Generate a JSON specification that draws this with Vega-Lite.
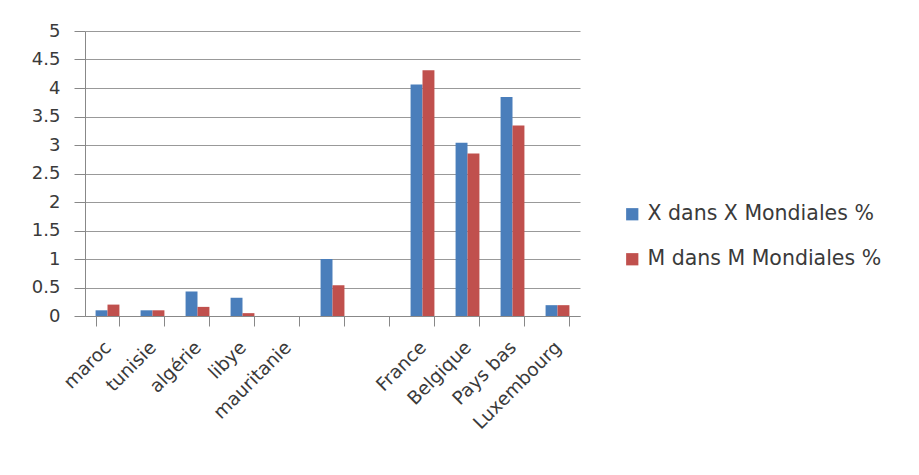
{
  "$schema": "https://vega.github.io/schema/vega-lite/v6.json",
  "width": 495,
  "height": 285,
  "autosize": {"type": "none"},
  "padding": {"left": 85, "top": 31, "right": 339, "bottom": 159},
  "background": "white",
  "config": {
    "view": {"stroke": null},
    "font": "DejaVu Sans",
    "axis": {"labelFont": "DejaVu Sans", "labelColor": "#3a3a3a", "labelFontSize": 18}
  },
  "data": {
    "values": [
      {"pays": "maroc", "serie": "X dans X Mondiales %", "valeur": 0.1},
      {"pays": "maroc", "serie": "M  dans M Mondiales %", "valeur": 0.2},
      {"pays": "tunisie", "serie": "X dans X Mondiales %", "valeur": 0.1},
      {"pays": "tunisie", "serie": "M  dans M Mondiales %", "valeur": 0.1},
      {"pays": "algérie", "serie": "X dans X Mondiales %", "valeur": 0.43},
      {"pays": "algérie", "serie": "M  dans M Mondiales %", "valeur": 0.16},
      {"pays": "libye", "serie": "X dans X Mondiales %", "valeur": 0.32},
      {"pays": "libye", "serie": "M  dans M Mondiales %", "valeur": 0.05},
      {"pays": "mauritanie", "serie": "X dans X Mondiales %", "valeur": 0},
      {"pays": "mauritanie", "serie": "M  dans M Mondiales %", "valeur": 0},
      {"pays": " ", "serie": "X dans X Mondiales %", "valeur": 1.0},
      {"pays": " ", "serie": "M  dans M Mondiales %", "valeur": 0.54},
      {"pays": "  ", "serie": "X dans X Mondiales %", "valeur": 0},
      {"pays": "  ", "serie": "M  dans M Mondiales %", "valeur": 0},
      {"pays": "France", "serie": "X dans X Mondiales %", "valeur": 4.06},
      {"pays": "France", "serie": "M  dans M Mondiales %", "valeur": 4.31},
      {"pays": "Belgique", "serie": "X dans X Mondiales %", "valeur": 3.04},
      {"pays": "Belgique", "serie": "M  dans M Mondiales %", "valeur": 2.85},
      {"pays": "Pays bas", "serie": "X dans X Mondiales %", "valeur": 3.84},
      {"pays": "Pays bas", "serie": "M  dans M Mondiales %", "valeur": 3.34},
      {"pays": "Luxembourg", "serie": "X dans X Mondiales %", "valeur": 0.19},
      {"pays": "Luxembourg", "serie": "M  dans M Mondiales %", "valeur": 0.19}
    ]
  },
  "mark": {"type": "bar"},
  "encoding": {
    "x": {
      "field": "pays",
      "type": "nominal",
      "sort": ["maroc", "tunisie", "algérie", "libye", "mauritanie", " ", "  ", "France", "Belgique", "Pays bas", "Luxembourg"],
      "scale": {"paddingInner": 0.47, "paddingOuter": 0.235},
      "axis": {
        "title": null,
        "labelAngle": -45,
        "labelAlign": "right",
        "labelBaseline": "middle",
        "labelPadding": 18,
        "labelFontSize": 18.5,
        "tickBand": "extent",
        "tickSize": 10,
        "tickColor": "#888888",
        "domainColor": "#888888",
        "labelOverlap": false
      }
    },
    "xOffset": {
      "field": "serie",
      "type": "nominal",
      "sort": ["X dans X Mondiales %", "M  dans M Mondiales %"],
      "scale": {"paddingInner": 0, "paddingOuter": 0}
    },
    "y": {
      "field": "valeur",
      "type": "quantitative",
      "scale": {"domain": [0, 5], "nice": false},
      "axis": {
        "title": null,
        "values": [0, 0.5, 1, 1.5, 2, 2.5, 3, 3.5, 4, 4.5, 5],
        "format": "~g",
        "tickSize": 11,
        "tickColor": "#888888",
        "domainColor": "#888888",
        "gridColor": "#999999",
        "grid": true,
        "labelPadding": 14,
        "labelFontSize": 18
      }
    },
    "color": {
      "field": "serie",
      "type": "nominal",
      "sort": ["X dans X Mondiales %", "M  dans M Mondiales %"],
      "scale": {"range": ["#4A7EBB", "#C0504D"]},
      "legend": {
        "title": null,
        "orient": "none",
        "legendX": 537,
        "legendY": 173,
        "symbolType": "square",
        "symbolSize": 150,
        "symbolStrokeWidth": 0,
        "labelFontSize": 20.5,
        "labelFont": "DejaVu Sans",
        "labelColor": "#3a3a3a",
        "rowPadding": 24,
        "labelOffset": 5,
        "labelLimit": 400
      }
    }
  }
}
